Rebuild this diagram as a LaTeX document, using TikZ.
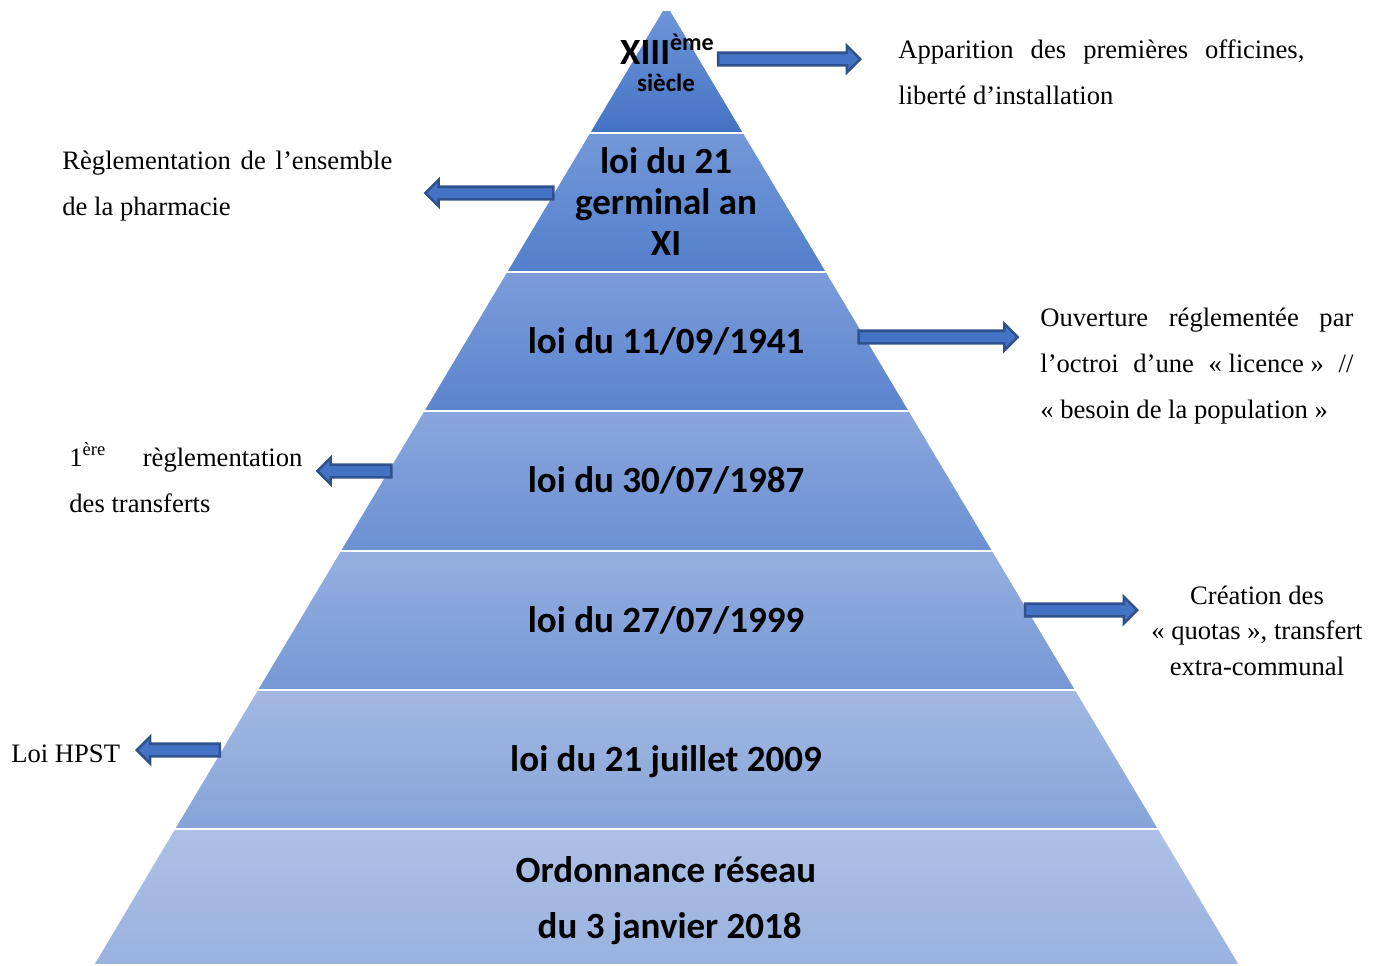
\documentclass[tikz,border=0pt]{standalone}
\usepackage{fontspec}
\setmainfont{Liberation Serif}
\newfontfamily\calibri{Carlito}
\usetikzlibrary{shapes.arrows}

\definecolor{flecheFond}{HTML}{4472C4}
\definecolor{flecheBord}{HTML}{2F528F}

\tikzset{
	fleche/.style={single arrow, draw=flecheBord, fill=flecheFond, line width=1.3pt,
		inner xsep=0pt, inner ysep=2.5pt, minimum width=12.5pt, single arrow head extend=3.5pt},
	gauche/.style={shape border rotate=180},
	etage/.style={draw=white, line width=0.9pt},
	titre/.style={font=\calibri\bfseries\fontsize{18.5}{20.5}\selectfont, inner sep=0pt, anchor=base},
	texte/.style={font=\fontsize{13.3}{23}\selectfont, inner sep=0pt, anchor=base west}
}

\begin{document}
\begin{tikzpicture}[x=0.5pt, y=-0.5pt]
	\useasboundingbox (0,0) rectangle (1381,965);
	% les etages de la pyramide
	\shadedraw[etage, top color={rgb,255:red,110;green,149;blue,216}, bottom color={rgb,255:red,68;green,114;blue,196}]
		(662.3,10) -- (670.7,10) -- (744,133) -- (589,133) -- cycle;
	\shadedraw[etage, top color={rgb,255:red,116;green,152;blue,217}, bottom color={rgb,255:red,82;green,127;blue,203}]
		(589,133) -- (744,133) -- (826.9,272) -- (506.1,272) -- cycle;
	\shadedraw[etage, top color={rgb,255:red,124;green,156;blue,218}, bottom color={rgb,255:red,91;green,132;blue,206}]
		(506.1,272) -- (826.9,272) -- (909.7,411) -- (423.3,411) -- cycle;
	\shadedraw[etage, top color={rgb,255:red,138;green,166;blue,220}, bottom color={rgb,255:red,107;green,144;blue,211}]
		(423.3,411) -- (909.7,411) -- (993.2,551) -- (339.8,551) -- cycle;
	\shadedraw[etage, top color={rgb,255:red,149;green,175;blue,224}, bottom color={rgb,255:red,118;green,152;blue,213}]
		(339.8,551) -- (993.2,551) -- (1076.1,690) -- (256.9,690) -- cycle;
	\shadedraw[etage, top color={rgb,255:red,163;green,184;blue,226}, bottom color={rgb,255:red,134;green,164;blue,217}]
		(256.9,690) -- (1076.1,690) -- (1159,829) -- (174,829) -- cycle;
	\shadedraw[etage, top color={rgb,255:red,173;green,192;blue,229}, bottom color={rgb,255:red,154;green,178;blue,224}]
		(174,829) -- (1159,829) -- (1240,965) -- (93,965) -- cycle;

	% textes des etages
	\node[titre] (siecle13) at (667,64) {XIII\raisebox{7pt}{\fontsize{12}{12}\selectfont ème}};
	\node[titre, font=\calibri\bfseries\fontsize{12.5}{14}\selectfont] (siecle) at (666,91) {siècle};
	\node[titre, text width=130pt, align=flush center] (germinal) at (666,173) {loi du 21\\ germinal an\\ XI};
	\node[titre] (loi1941) at (666,353) {loi du 11/09/1941};
	\node[titre] (loi1987) at (666,492) {loi du 30/07/1987};
	\node[titre] (loi1999) at (666,632) {loi du 27/07/1999};
	\node[titre] (loi2009) at (666,771) {loi du 21 juillet 2009};
	\node[titre, text width=200pt, align=flush center, font=\calibri\bfseries\fontsize{18.5}{28}\selectfont] (ordonnance) at (666,882)
		{Ordonnance réseau\\ \hspace*{0.2em}du 3 janvier 2018};

	% fleches
	\node[fleche, minimum height=71pt] (f1) at (786,59) {};
	\node[fleche, gauche, minimum height=64pt] (f2) at (492.5,193) {};
	\node[fleche, minimum height=79.5pt] (f3) at (935,337) {};
	\node[fleche, gauche, minimum height=37pt] (f4) at (357.5,471) {};
	\node[fleche, minimum height=56pt] (f5) at (1078,610) {};
	\node[fleche, gauche, minimum height=41.5pt] (f6) at (181.5,750) {};

	% commentaires
	\node[texte, text width=203pt, align=justify] (apparition) at (898,58)
		{Apparition des premières officines,\linebreak liberté d’installation};
	\node[texte, text width=165pt, align=justify] (ensemble) at (62,169)
		{Règlementation de l’ensemble\linebreak de la pharmacie};
	\node[texte, text width=156.5pt, align=justify] (ouverture) at (1040,326)
		{Ouverture réglementée par\linebreak l’octroi d’une \hbox{«~licence~»} //\linebreak «~besoin de la population~»};
	\node[texte, text width=116.5pt, align=justify] (transferts) at (69,466)
		{1\textsuperscript{ère} règlementation\linebreak des transferts};
	\node[texte, anchor=base, text width=130pt, align=flush center, font=\fontsize{13.3}{17.75}\selectfont] (quotas) at (1257,604)
		{Création des\\ «~quotas~», transfert\\ extra-communal};
	\node[texte] (hpst) at (11,762) {Loi HPST};
\end{tikzpicture}
\end{document}
